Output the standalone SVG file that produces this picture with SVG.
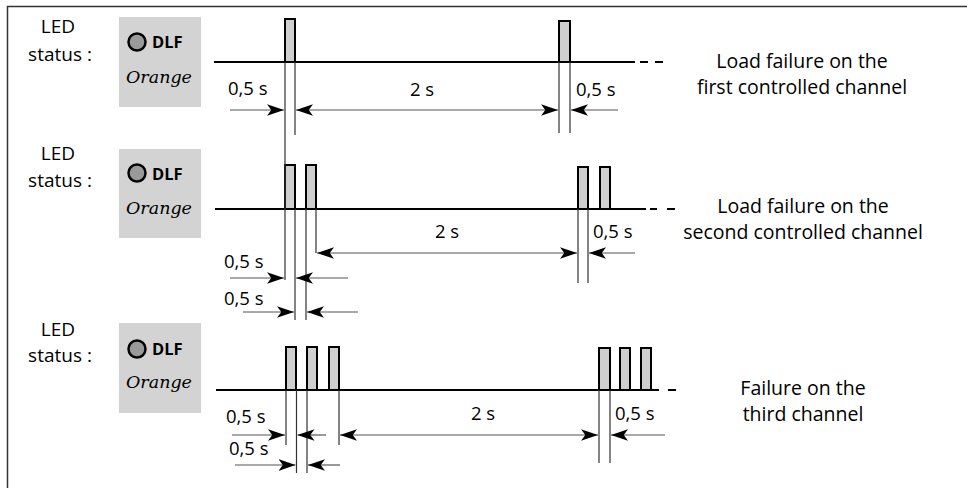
<svg xmlns="http://www.w3.org/2000/svg" width="967" height="488" viewBox="0 0 967 488">
<style>
.frame{fill:none;stroke:#333;stroke-width:1.5}
.lbl{font-family:"Open Sans","Noto Sans",sans-serif;font-size:18.5px;fill:#000}
.led-t{font-family:"Open Sans","Noto Sans",sans-serif;font-size:19px;fill:#000;text-anchor:middle}
.big{font-family:"Open Sans","Noto Sans",sans-serif;font-size:19.5px;fill:#000;text-anchor:middle}
.dlf{font-family:"Open Sans","Noto Sans",sans-serif;font-size:16.5px;font-weight:bold;fill:#000}
.org{font-family:"DejaVu Serif","Liberation Serif",serif;font-size:17.5px;font-style:italic;fill:#000}
.box{fill:#d3d3d3}
.led{fill:#9a9a9a;stroke:#000;stroke-width:2.5}
.axis{stroke:#000;stroke-width:2;fill:none}
.pulse{fill:#cfcfcf;stroke:#000;stroke-width:2}
.ext{stroke:#333;stroke-width:1.2;fill:none}
.dim{stroke:#555;stroke-width:1.2;fill:none;marker-end:url(#ah)}
.dbl{stroke:#555;stroke-width:1.2;fill:none;marker-end:url(#ah);marker-start:url(#ah)}
</style>
<defs>
<marker id="ah" viewBox="0 0 16 11" refX="16" refY="5.5" markerWidth="17" markerHeight="12" markerUnits="userSpaceOnUse" orient="auto-start-reverse">
<path d="M0,0 L16,5.5 L0,11 L4,5.5 Z" fill="#000"/>
</marker>
</defs>
<rect width="967" height="488" fill="#fff"/>
<path class="frame" d="M7.5,490 V6.5 H970"/>

<g id="panel1">
<text class="led-t" x="58" y="33">LED</text>
<text class="led-t" x="60" y="61">status :</text>
<rect class="box" x="119" y="17" width="82" height="90"/>
<circle class="led" cx="137" cy="42" r="8.5"/>
<text class="dlf" x="152" y="48">DLF</text>
<text class="org" x="126" y="83">Orange</text>
<path class="axis" d="M214,62 H635 M640,62 H648 M655,62 H663"/>
<rect class="pulse" x="285" y="19" width="10" height="43"/>
<rect class="pulse" x="559" y="21" width="11" height="41"/>
<text class="lbl" x="228" y="95">0,5 s</text>
<text class="lbl" x="422" y="96" text-anchor="middle">2 s</text>
<text class="lbl" x="576" y="96">0,5 s</text>
<text class="big" x="802" y="68">Load failure on the</text>
<text class="big" x="802" y="94">first controlled channel</text>
</g>

<g id="panel2">
<text class="led-t" x="58" y="160">LED</text>
<text class="led-t" x="60" y="187">status :</text>
<rect class="box" x="119" y="149" width="82" height="89"/>
<circle class="led" cx="137" cy="173" r="8.5"/>
<text class="dlf" x="152" y="180">DLF</text>
<text class="org" x="126" y="214">Orange</text>
<path class="axis" d="M215,209 H646 M650,209 H657 M667,209 H675"/>
<rect class="pulse" x="285" y="165" width="10" height="44"/>
<rect class="pulse" x="306" y="165" width="10" height="44"/>
<rect class="pulse" x="578" y="167" width="10" height="42"/>
<rect class="pulse" x="600" y="167" width="10" height="42"/>
<text class="lbl" x="224" y="268">0,5 s</text>
<text class="lbl" x="224" y="305">0,5 s</text>
<text class="lbl" x="447" y="238" text-anchor="middle">2 s</text>
<text class="lbl" x="593" y="238">0,5 s</text>
<text class="big" x="803" y="213">Load failure on the</text>
<text class="big" x="803" y="239">second controlled channel</text>
</g>

<g id="panel3">
<text class="led-t" x="58" y="336">LED</text>
<text class="led-t" x="60" y="362">status :</text>
<rect class="box" x="119" y="323" width="82" height="90"/>
<circle class="led" cx="137" cy="349" r="8.5"/>
<text class="dlf" x="152" y="355">DLF</text>
<text class="org" x="126" y="388">Orange</text>
<path class="axis" d="M216,390 H659 M668,390 H676"/>
<rect class="pulse" x="286" y="347" width="10" height="43"/>
<rect class="pulse" x="307" y="347" width="10" height="43"/>
<rect class="pulse" x="329" y="347" width="10" height="43"/>
<rect class="pulse" x="599" y="348" width="11" height="42"/>
<rect class="pulse" x="620" y="348" width="10" height="42"/>
<rect class="pulse" x="641" y="348" width="10" height="42"/>
<text class="lbl" x="226" y="423">0,5 s</text>
<text class="lbl" x="229" y="455">0,5 s</text>
<text class="lbl" x="483" y="420" text-anchor="middle">2 s</text>
<text class="lbl" x="615" y="420">0,5 s</text>
<text class="big" x="803" y="395">Failure on the</text>
<text class="big" x="803" y="421">third channel</text>
</g>

<g id="connectors">
<path class="ext" d="M285,62 V280 M295,62 V135 M559,62 V133 M570,62 V133"/>
<path class="ext" d="M295,209 V320 M306,209 V320 M316,209 V253 M578,209 V283 M588,209 V283"/>
<path class="ext" d="M286,390 V445 M296.5,390 V473 M307,390 V473 M339,390 V445 M599,390 V463 M610,390 V463"/>
<line class="dim" x1="230" y1="110" x2="284" y2="110"/>
<line class="dbl" x1="296" y1="110" x2="558" y2="110"/>
<line class="dim" x1="618" y1="110" x2="571" y2="110"/>
<line class="dbl" x1="317" y1="253" x2="577" y2="253"/>
<line class="dim" x1="635" y1="253" x2="589" y2="253"/>
<line class="dim" x1="230" y1="278" x2="284" y2="278"/>
<line class="dim" x1="348" y1="278" x2="296" y2="278"/>
<line class="dim" x1="243" y1="312" x2="294" y2="312"/>
<line class="dim" x1="358" y1="312" x2="307" y2="312"/>
<line class="dim" x1="232" y1="435" x2="285" y2="435"/>
<line class="dim" x1="326" y1="435" x2="297.5" y2="435"/>
<line class="dbl" x1="340" y1="435" x2="598" y2="435"/>
<line class="dim" x1="665" y1="435" x2="611" y2="435"/>
<line class="dim" x1="235" y1="465" x2="295.5" y2="465"/>
<line class="dim" x1="340" y1="465" x2="308" y2="465"/>
</g>
</svg>
